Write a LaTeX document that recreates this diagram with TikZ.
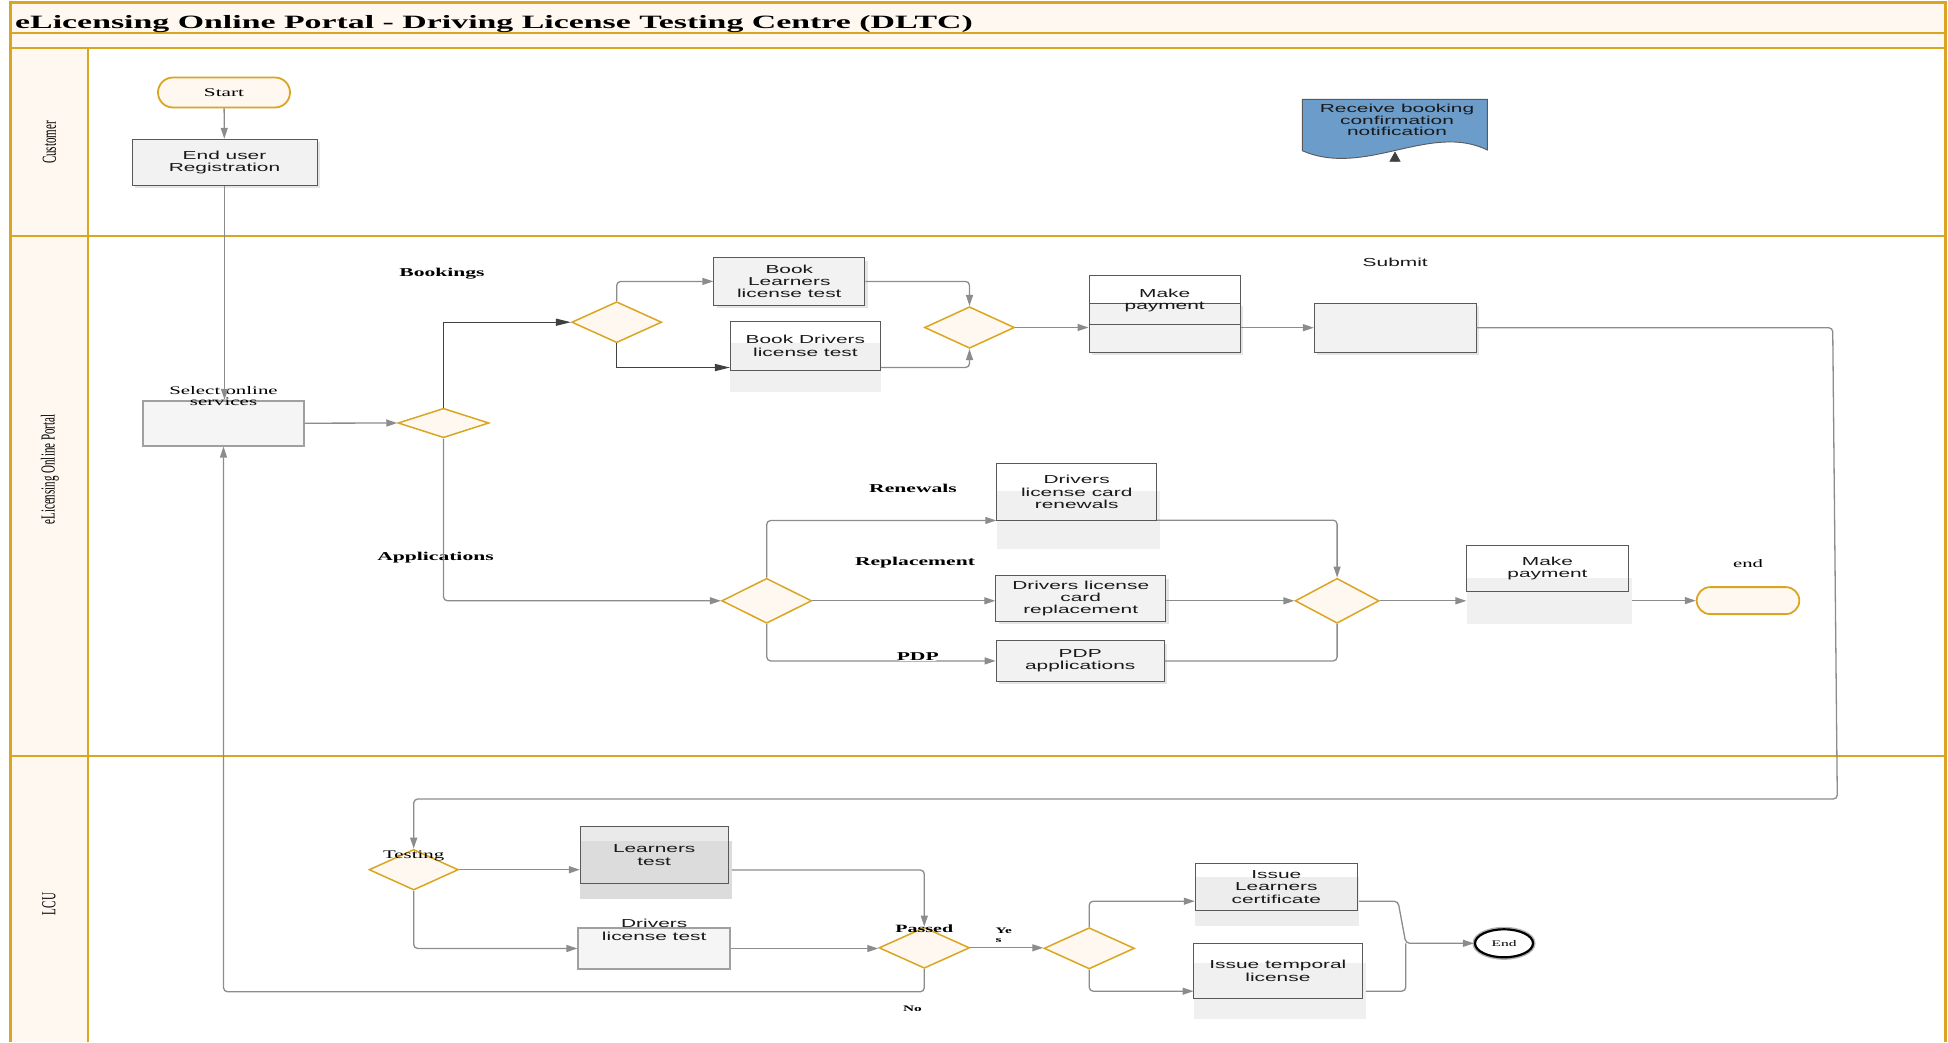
\documentclass[tikz,border=0pt]{standalone}
\usepackage{fontspec}
\usetikzlibrary{shapes.geometric,shapes.misc,arrows.meta,shadows}
\newfontfamily\boxsans[FakeStretch=1.8]{Liberation Sans}
\newfontfamily\wideserif[FakeStretch=1.8]{Liberation Serif}
\newfontfamily\laneserif[FakeStretch=0.556]{Liberation Serif}
\definecolor{lanegold}{RGB}{218,165,32}
\definecolor{cream}{RGB}{255,248,241}
\definecolor{boxgray}{RGB}{242,242,242}
\definecolor{boxline}{RGB}{89,89,89}
\definecolor{softline}{RGB}{160,160,160}
\definecolor{conngray}{RGB}{140,140,140}
\definecolor{conndark}{RGB}{64,64,64}
\definecolor{docblue}{RGB}{108,157,202}
\definecolor{backgray}{RGB}{240,240,240}
\definecolor{testgray}{RGB}{220,220,220}
\definecolor{testlight}{RGB}{234,234,234}

\begin{document}
\begin{tikzpicture}[x=1pt,y=-1pt,
  boxtext/.style={font=\boxsans\fontsize{11.6}{12.3}\selectfont, align=center, text=black!90},
  sertext/.style={font=\wideserif\fontsize{11.6}{11}\selectfont, align=center, inner sep=0pt},
  steplabel/.style={font=\wideserif\bfseries\fontsize{12}{12}\selectfont, inner sep=0pt},
  smalllabel/.style={font=\wideserif\bfseries\fontsize{8.5}{9}\selectfont, inner sep=0pt},
  lanetext/.style={font=\laneserif\fontsize{19.8}{20}\selectfont, rotate=90, inner sep=0pt},
  lanerule/.style={draw=lanegold, line width=2pt},
  boxshadow/.style={drop shadow={shadow xshift=3pt, shadow yshift=-3pt, fill=black!20, opacity=0.5}},
  proc/.style={boxtext, draw=boxline, fill=boxgray, line width=0.9pt, inner sep=0pt, boxshadow},
  softproc/.style={boxtext, draw=softline, fill=black!4, line width=1.8pt, inner sep=0pt},
  framebox/.style={boxtext, draw=boxline, line width=0.9pt, inner sep=0pt},
  backing/.style={fill=backgray, inner sep=0pt},
  decision/.style={diamond, draw=lanegold, fill=cream, line width=1.5pt, inner sep=0pt},
  terminal/.style={rounded rectangle, draw=lanegold, fill=cream, line width=1.8pt, inner sep=0pt},
  conn/.style={draw=conngray, line width=1.3pt, rounded corners=4pt, -{Triangle[length=11pt,width=7pt]}},
  flowline/.style={draw=conngray, line width=1.3pt, rounded corners=4pt},
  darkconn/.style={draw=conndark, line width=1.3pt, -{Triangle[length=15pt,width=7pt]}},
]
\useasboundingbox (0,0) rectangle (1948,1042);

% pool frame and swimlanes
\fill[cream] (10,2.5) rectangle (1945,47.5);
\fill[cream] (10,47.5) rectangle (88,1042);
\draw[lanerule] (10,33) -- (1945,33);
\draw[lanerule] (10,47.5) -- (1945,47.5);
\draw[lanerule] (10,236) -- (1945,236);
\draw[lanerule] (10,756) -- (1945,756);
\draw[lanerule] (88,47.5) -- (88,1042);
\draw[lanegold, line width=3pt] (10,1042) -- (10,2.5) -- (1945,2.5) -- (1945,1042);

\node[anchor=base west, inner sep=0pt, font=\wideserif\bfseries\fontsize{18.8}{20}\selectfont] (title) at (15,28)
  {eLicensing Online Portal - Driving License Testing Centre (DLTC)};

\node[lanetext] (lanecust) at (49.5,142.5) {Customer};
\node[lanetext] (laneportal) at (50,469.5) {eLicensing Online Portal};
\node[lanetext] (lanelcu) at (49,904) {LCU};

% backing panels behind the framed steps
\node[backing, minimum width=151pt, minimum height=49.6pt] (bdb) at (805.5,367.5) {};
\node[backing, minimum width=163.3pt, minimum height=58.3pt] (renb) at (1078.4,519.9) {};
\node[proc, minimum width=151.3pt, minimum height=48.7pt] (mp1b) at (1164.7,327.7) {};
\node[backing, minimum width=165.4pt, minimum height=46pt] (mp2b) at (1549.3,601.3) {};
\fill[testlight] (580,826.7) rectangle (728.3,841);
\node[fill=testgray, inner sep=0pt, minimum width=151.7pt, minimum height=58pt] (ltb) at (655.9,870) {};
\node[fill=black!7, inner sep=0pt, minimum width=164pt, minimum height=49pt] (ilcb) at (1277,901.2) {};
\node[backing, minimum width=171.9pt, minimum height=55.7pt] (itlb) at (1279.7,991.2) {};

% customer lane
\node[terminal, minimum width=132pt, minimum height=30pt, font=\wideserif\fontsize{11.8}{12}\selectfont] (start) at (224,92.5) {Start};
\node[proc, minimum width=185pt, minimum height=46pt] (reg) at (224.5,162.3) {End user\\Registration};
\filldraw[fill=docblue, draw=boxline, line width=0.9pt]
  (1302.3,99.3) -- (1487.3,99.3) -- (1487.3,150)
  .. controls (1430,122) and (1365,178) .. (1302.3,150.7) -- cycle;
\node[boxtext, font=\boxsans\fontsize{11.6}{11.7}\selectfont, inner sep=0pt] (doc) at (1397,120)
  {Receive booking\\confirmation\\notification};
\coordinate (docin) at (1395,161.5);
\coordinate (docedge) at (1395,151.5);

% portal lane
\node[softproc, minimum width=160.6pt, minimum height=45pt,
  label={[sertext, anchor=center, yshift=3.5pt]north:Select online\\services}] (sel) at (223.5,423.2) {};
\node[decision, minimum width=91pt, minimum height=29.5pt] (d1) at (443.5,423) {};
\node[decision, minimum width=90pt, minimum height=41pt] (d2) at (616.7,322.2) {};
\node[proc, minimum width=151pt, minimum height=47.3pt] (bl) at (789.3,281.4) {Book\\Learners\\license test};
\node[framebox, minimum width=150pt, minimum height=49.3pt] (bd) at (805.4,345.7) {Book Drivers\\license test};
\node[decision, minimum width=90pt, minimum height=41.6pt] (d3) at (969.5,327.5) {};
\node[framebox, minimum width=151.3pt, minimum height=49pt] (mp1) at (1164.7,300.2) {Make\\payment};
\node[proc, minimum width=161.7pt, minimum height=48.7pt,
  label={[boxtext, anchor=base, yshift=36pt]north:Submit}] (sub) at (1395.2,327.7) {};

\node[steplabel, anchor=base] (lbook) at (442,276) {Bookings};
\node[steplabel, anchor=base] (lapp) at (435.5,560) {Applications};
\node[steplabel, anchor=base] (lren) at (913,492.7) {Renewals};
\node[steplabel, anchor=base] (lrep) at (915,565) {Replacement};

\node[decision, minimum width=90pt, minimum height=45pt] (d4) at (766.7,600.8) {};
\node[framebox, minimum width=160pt, minimum height=57.4pt] (ren) at (1076.7,492) {Drivers\\license card\\renewals};
\node[proc, minimum width=170pt, minimum height=45.3pt] (rep) at (1080.7,598.4) {Drivers license\\card\\replacement};
\node[proc, minimum width=168.3pt, minimum height=40.3pt] (pdp) at (1080.2,660.9) {PDP\\applications};
\node[decision, minimum width=84pt, minimum height=45pt] (d5) at (1337.1,600.8) {};
\node[framebox, minimum width=161.8pt, minimum height=45.6pt] (mp2) at (1547.5,568.5) {Make\\payment};
\node[terminal, minimum width=102.6pt, minimum height=27pt,
  label={[sertext, font=\wideserif\fontsize{11.5}{12}\selectfont, anchor=base, yshift=18.5pt]north:end}] (endt) at (1748,600.6) {};

% LCU lane
\node[decision, minimum width=89.3pt, minimum height=40.7pt,
  label={[sertext, anchor=base, yshift=-9.7pt]north:Testing}] (testing) at (413.7,869.7) {};
\node[framebox, minimum width=148.3pt, minimum height=56.6pt] (lt) at (654.2,855) {Learners\\test};
\node[softproc, minimum width=151.7pt, minimum height=41.6pt,
  label={[boxtext, anchor=center, yshift=-3pt]north:Drivers\\license test}] (dlt) at (654.2,948.5) {};
\node[decision, minimum width=90.6pt, minimum height=41pt,
  label={[steplabel, font=\wideserif\bfseries\fontsize{11.1}{12}\selectfont, anchor=base, yshift=-6pt]north:Passed}] (passed) at (924.3,947.8) {};
\node[decision, minimum width=90.4pt, minimum height=41.3pt] (d6) at (1089.2,948.3) {};
\node[framebox, minimum width=162.6pt, minimum height=47.4pt] (ilc) at (1276.3,887) {Issue\\Learners\\certificate};
\node[framebox, minimum width=168.3pt, minimum height=55pt] (itl) at (1277.9,970.8) {Issue temporal\\license};
\node[ellipse, draw=black, line width=2.2pt, fill=white, minimum width=58pt, minimum height=28pt, inner sep=0pt,
  preaction={draw=black!30, line width=5pt},
  font=\wideserif\fontsize{8.6}{9}\selectfont] (endc) at (1504,943.3) {End};
\node[smalllabel, anchor=north west, align=left, font=\wideserif\bfseries\fontsize{8.5}{9}\selectfont] (yes) at (995.5,928) {Ye\\s};
\node[smalllabel, anchor=base] (no) at (912.5,1011.7) {No};

% connector waypoints
\coordinate (fbA) at (1832.7,327.7);
\coordinate (fbB) at (1837.3,799);
\coordinate (mA) at (1398,901.2);
\coordinate (mB) at (1405.8,943.3);

% connectors
\draw[conn] (start) -- (reg);
\draw[conn] (reg.south) -- (reg.south |- sel.north);
\draw[conndark, line width=0.5pt, -{Triangle[length=10pt,width=11pt]}] (docin) -- (docedge);
\draw[conn] (sel.east) -- (d1.west);
\draw[darkconn] (d1.north) |- (d2.west);
\draw[conn] (d2.north) |- (bl.west);
\draw[darkconn] (d2.south) |- ([yshift=3.3pt]bd.south west);
\draw[conn] (bl.east) -| (d3.north);
\draw[conn] ([yshift=3.3pt]bd.south east) -| (d3.south);
\draw[conn] (d3.east) -- (d3.east -| mp1b.west);
\draw[conn] (mp1b.east) -- (sub.west);
\draw[conn] (sub.east) -- (fbA) -- (fbB) -| (testing.north);
\draw[conn] (d1.south) |- (d4.west);
\draw[conn] (d4.north) |- ([yshift=0.7pt]ren.south west);
\draw[conn] (d4.east) -- (d4.east -| rep.west);
\draw[conn] (d4.south) |- node[pos=0.83, anchor=base, fill=white, inner sep=1pt, steplabel] (lpdp) {PDP} (pdp.west);
\draw[conn] ([yshift=1pt]ren.south east) -| (d5.north);
\draw[conn] (rep.east |- d5.west) -- (d5.west);
\draw[flowline] (pdp.east) -| (d5.south);
\draw[conn] (d5.east) -- (d5.east -| mp2b.west);
\draw[conn] (mp2b.east |- endt.west) -- (endt.west);
\draw[conn] (testing.east) -- (testing.east -| ltb.west);
\draw[conn] (testing.south) |- (dlt.west);
\draw[conn] (ltb.east) -| (passed.north);
\draw[conn] (dlt.east) -- (dlt.east -| passed.west);
\draw[conn] (passed.south) -- ++(0,22.7) -| (sel.south);
\draw[conn] (passed.east) -- (passed.east -| d6.west);
\draw[conn] (d6.north) |- (ilcb.west);
\draw[conn] (d6.south) |- (itlb.west);
\draw[conn] (ilcb.east) -- (mA) -- (mB) -- (endc.west);
\draw[flowline] (itlb.east) -| (mB);
\end{tikzpicture}
\end{document}
